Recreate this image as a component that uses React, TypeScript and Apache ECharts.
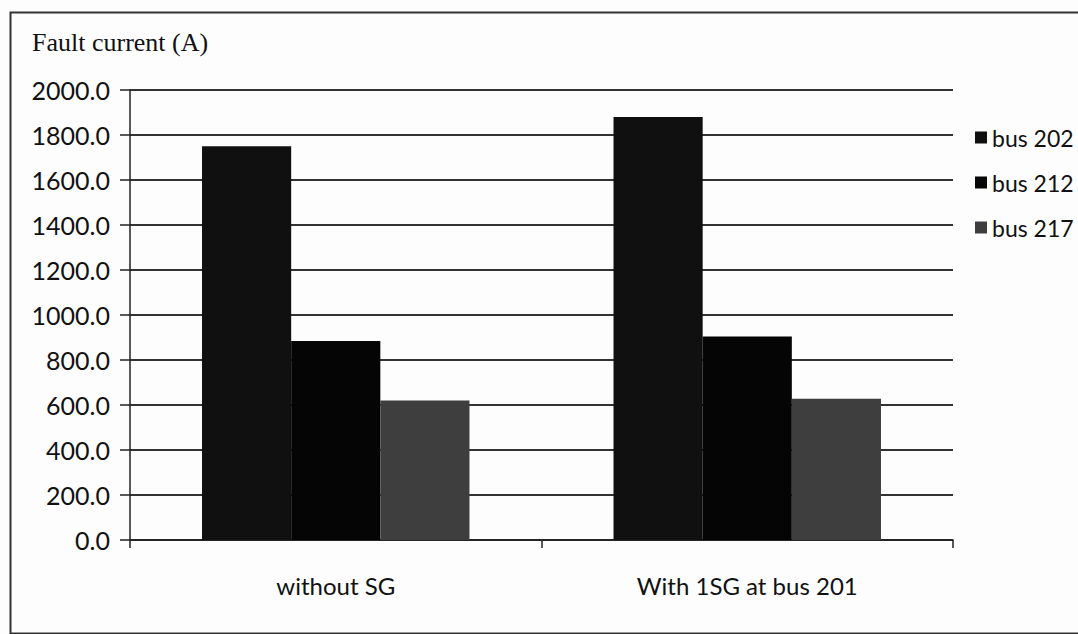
import React, { useEffect, useRef } from "react";
import * as echarts from "echarts";

// Fault current at the monitored buses, with and without a synchronous generator
const categories: string[] = ["without SG", "With 1SG at bus 201"];
const seriesNames: string[] = ["bus 202", "bus 212", "bus 217"];
const bus202: number[] = [1750, 1880];
const bus212: number[] = [885, 905];
const bus217: number[] = [620, 628];
const seriesColors: string[] = ["#101010", "#050505", "#3e3e3e"];

const sansFont = "Lato, 'Open Sans', sans-serif";

export default function App() {
  const ref = useRef<HTMLDivElement>(null);

  useEffect(() => {
    document.body.style.margin = "0";
    if (!ref.current) return;
    const chart = echarts.init(ref.current, undefined, { renderer: "svg" });
    const values = [bus202, bus212, bus217];

    chart.setOption({
      animation: false,
      backgroundColor: "#fdfdfd",
      title: {
        text: "Fault current (A)",
        left: 27,
        top: 24,
        textStyle: {
          fontFamily: "'Liberation Serif', 'Times New Roman', serif",
          fontSize: 26,
          fontWeight: "normal",
          color: "#111",
        },
      },
      legend: {
        orient: "vertical",
        left: 970,
        top: 121,
        itemWidth: 12,
        itemHeight: 12,
        itemGap: 22,
        icon: "rect",
        data: seriesNames,
        textStyle: { fontFamily: sansFont, fontSize: 23, color: "#111" },
      },
      grid: { left: 130, right: 125, top: 90, bottom: 94 },
      xAxis: {
        type: "category",
        data: categories,
        axisLine: { lineStyle: { color: "#222", width: 1.5 } },
        axisTick: { show: true, interval: 0, length: 8, lineStyle: { color: "#222", width: 1.5 } },
        axisLabel: { fontFamily: sansFont, fontSize: 24, color: "#111", margin: 33 },
      },
      yAxis: {
        type: "value",
        min: 0,
        max: 2000,
        interval: 200,
        axisLine: { show: true, lineStyle: { color: "#222", width: 1.5 } },
        axisTick: { show: true, length: 10, lineStyle: { color: "#222", width: 1.5 } },
        axisLabel: {
          fontFamily: sansFont,
          fontSize: 25,
          color: "#111",
          margin: 20,
          formatter: (v: number) => v.toFixed(1),
        },
        splitLine: { show: true, lineStyle: { color: "#333", width: 1.8 } },
      },
      series: seriesNames.map((name, i) => ({
        name,
        type: "bar",
        data: values[i],
        barGap: "0%",
        barCategoryGap: "35%",
        itemStyle: { color: seriesColors[i] },
      })),
      graphic: [
        {
          type: "rect",
          left: 8,
          top: 10,
          shape: { width: 1090, height: 621 },
          style: { fill: "none", stroke: "#333", lineWidth: 2 },
          silent: true,
        },
      ],
    });

    return () => chart.dispose();
  }, []);

  return <div ref={ref} style={{ width: 1078, height: 634 }} />;
}
